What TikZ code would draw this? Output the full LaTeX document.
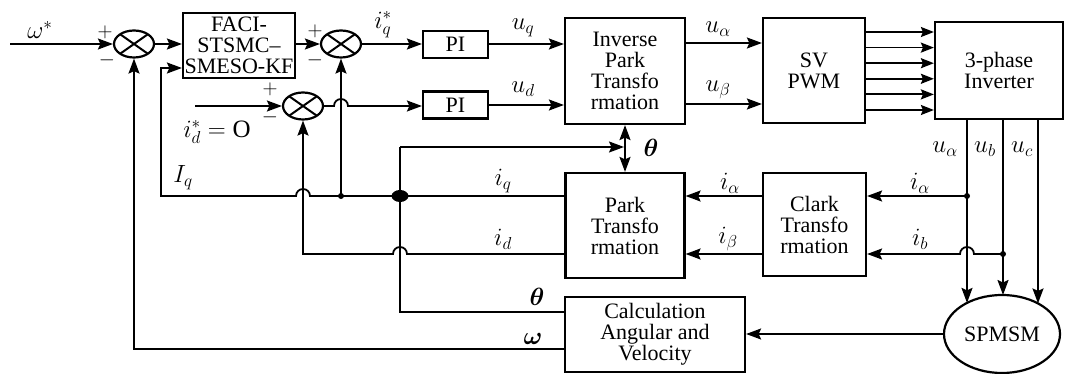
\documentclass[tikz,border=0pt]{standalone}
\usepackage{fontspec}
\usepackage{bm}
\setmainfont{Liberation Serif}
\usetikzlibrary{arrows.meta,calc,shapes.geometric,intersections}

% X mark inside a summing junction
\newcommand\sumcross[1]{%
  \draw[line width=2pt] ($(#1)+(-13.5,-9.5)$) -- ($(#1)+(13.5,9.5)$)
                        ($(#1)+(-13.5,9.5)$) -- ($(#1)+(13.5,-9.5)$);}

\begin{document}
\begin{tikzpicture}[x=1pt,y=-1pt,
  font=\fontsize{22}{21}\selectfont,
  blk/.style={draw,line width=2.2pt,inner sep=0pt,align=center},
  sumn/.style={draw,ellipse,line width=2.2pt,minimum width=40pt,minimum height=27pt,inner sep=0pt},
  wire/.style={line width=1.8pt},
  arr/.style={wire,-{Stealth[length=15pt,width=11pt,inset=2.5pt]}},
  darr/.style={wire,{Stealth[length=15pt,width=11pt,inset=2.5pt]}-{Stealth[length=15pt,width=11pt,inset=2.5pt]}},
  lbl/.style={inner sep=0pt,font=\fontsize{25}{25}\selectfont},
  sgn/.style={inner sep=0pt,font=\fontsize{21}{21}\selectfont},
  dot/.style={circle,fill,inner sep=0pt,minimum size=6pt},
]
\useasboundingbox (0,0) rectangle (1068,374);

% ---------- blocks ----------
\node[blk,minimum width=112pt,minimum height=65pt] (faci) at (239,45.5) {FACI-\\STSMC–\\SMESO-KF};
\node[blk,minimum width=65pt,minimum height=27pt] (pi1) at (455.5,44.5) {PI};
\node[blk,minimum width=65pt,minimum height=27pt] (pi2) at (455.5,105) {PI};
\node[blk,minimum width=120pt,minimum height=106pt] (invpark) at (625,71) {Inverse\\Park\\Transfo\\rmation};
\node[blk,minimum width=102pt,minimum height=105pt] (svpwm) at (814,70.5) {SV\\PWM};
\node[blk,minimum width=128pt,minimum height=97pt] (inv) at (999,70.5) {3-phase\\Inverter};
\node[blk,minimum width=119pt,minimum height=105pt] (park) at (625,225.5) {Park\\Transfo\\rmation};
\node[blk,minimum width=103pt,minimum height=103pt] (clark) at (814.5,224.5) {Clark\\Transfo\\rmation};
\node[blk,minimum width=180pt,minimum height=75pt] (calc) at (655,334.5) {Calculation\\Angular and\\Velocity};
\node[draw,ellipse,line width=2.2pt,minimum width=116pt,minimum height=78pt,inner sep=0pt,name path=spmb] (spm) at (1002,334) {SPMSM};

% ---------- summing junctions ----------
\node[sumn] (s1) at (134,44) {};
\node[sumn] (s2) at (341,44) {};
\node[sumn] (s3) at (303,106) {};
\sumcross{s1}\sumcross{s2}\sumcross{s3}

% ---------- free ends and junction points ----------
\coordinate (win) at (10,44);
\coordinate (idin) at (195,106);
\coordinate (iqL) at (161,196);
\coordinate (thL) at (400,147);
\coordinate (thJ) at (400,196);
\coordinate (iqJ) at (341,196);
\coordinate (iaJ) at (967,196);
\coordinate (ibJ) at (1003,254);
\coordinate (ua) at (967,0);
\coordinate (ub) at (1003,0);
\coordinate (uc) at (1038,0);

% ---------- forward path ----------
\draw[arr] (win) -- (s1.west);
\draw[arr] (s1.east) -- (s1.east -| faci.west);
\draw[arr] (faci.east |- s2.west) -- (s2.west);
\draw[arr] (s2.east) -- (s2.east -| pi1.west);
\draw[arr] (pi1.east |- 0,44) -- (invpark.west |- 0,44);
\draw[arr] (idin) -- (s3.west);
\draw[arr] (s3.east) -- (334,106) arc[start angle=180,end angle=0,radius=7pt] -- (pi2.west |- 0,106);
\draw[arr] (pi2.east |- 0,105) -- (invpark.west |- 0,105);
\draw[arr] (invpark.east |- 0,43) -- (svpwm.west |- 0,43);
\draw[arr] (invpark.east |- 0,104) -- (svpwm.west |- 0,104);
\foreach \k in {0,...,5}{
  \pgfmathsetmacro\yy{32+15.6*\k}
  \draw[wire,-{Stealth[length=13pt,width=10pt,inset=2pt]}] (svpwm.east |- 0,\yy) -- (inv.west |- 0,\yy);
}

% ---------- inverter to motor ----------
\path[name path=va] (inv.south -| ua) -- ++(0,250);
\path[name path=vb] (inv.south -| ub) -- ++(0,250);
\path[name path=vc] (inv.south -| uc) -- ++(0,250);
\draw[arr,name intersections={of=va and spmb,by=pa}] (inv.south -| ua) -- (pa);
\draw[arr,name intersections={of=vb and spmb,by=pb}] (inv.south -| ub) -- (pb);
\draw[arr,name intersections={of=vc and spmb,by=pc}] (inv.south -| uc) -- (pc);

% ---------- current measurement ----------
\draw[arr] (iaJ) -- (clark.east |- iaJ);
\draw[arr] (ibJ) -- (974,254) arc[start angle=0,end angle=180,radius=7pt] -- (clark.east |- ibJ);
\draw[arr] (clark.west |- 0,196) -- (park.east |- 0,196);
\draw[arr] (clark.west |- 0,254) -- (park.east |- 0,254);
\node[dot] (d1) at (iaJ) {};
\node[dot] (d2) at (ibJ) {};

% ---------- feedback ----------
\draw[arr] (park.west |- 0,196) -- (310,196) arc[start angle=0,end angle=180,radius=7pt] -- (iqL) -- (iqL |- 0,68) -- (faci.west |- 0,68);
\draw[arr] (iqJ) -- (s2.south);
\draw[arr] (park.west |- 0,254) -- (407,254) arc[start angle=0,end angle=180,radius=7pt] -- (303,254) -- (s3.south);
\draw[wire] (calc.west |- 0,312) -- (400,312) -- (thL);
\draw[arr] (thL) -- ($(invpark.south |- thL)+(-1,0)$);
\draw[darr] (invpark.south) -- (park.north);
\draw[arr] (calc.west |- 0,349) -| (s1.south);
\draw[arr] (spm.west) -- (spm.west -| calc.east);
\node[dot] (d3) at (iqJ) {};
\fill (thJ) ellipse [x radius=8.5pt,y radius=6pt];

% ---------- labels ----------
\node[lbl] (lw) at (40,30) {$\omega^{*}$};
\node[sgn] (p1) at (105,32) {$+$};
\node[sgn] (m1) at (107,60) {$-$};
\node[sgn] (p2) at (315,31) {$+$};
\node[sgn] (m2) at (315,60) {$-$};
\node[sgn] (p3) at (270,89) {$+$};
\node[sgn] (m3) at (270,117) {$-$};
\node[lbl] (liq) at (383,25) {$i_q^{*}$};
\node[lbl] (lid) at (217,132) {$i_d^{*}=\mbox{O}$};
\node[lbl] (luq) at (523,28) {$u_q$};
\node[lbl] (lud) at (523,89) {$u_d$};
\node[lbl] (lua) at (718,29) {$u_\alpha$};
\node[lbl] (lub) at (718,90) {$u_\beta$};
\node[lbl] (lth) at (651,148) {$\bm{\theta}$};
\node[lbl] (lIq) at (183,178) {$I_q$};
\node[lbl] (liq2) at (503,181) {$i_q$};
\node[lbl] (lid2) at (503,239) {$i_d$};
\node[lbl] (lia) at (730,183) {$i_\alpha$};
\node[lbl] (lib) at (728,239) {$i_\beta$};
\node[lbl] (lia2) at (920,183) {$i_\alpha$};
\node[lbl] (lib2) at (920,239) {$i_b$};
\node[lbl] (lua2) at (945,149) {$u_\alpha$};
\node[lbl] (lub2) at (985,149) {$u_b$};
\node[lbl] (luc2) at (1022,149) {$u_c$};
\node[lbl] (lth2) at (537,297) {$\bm{\theta}$};
\node[lbl] (lw2) at (533,339) {$\bm{\omega}$};
\end{tikzpicture}
\end{document}
